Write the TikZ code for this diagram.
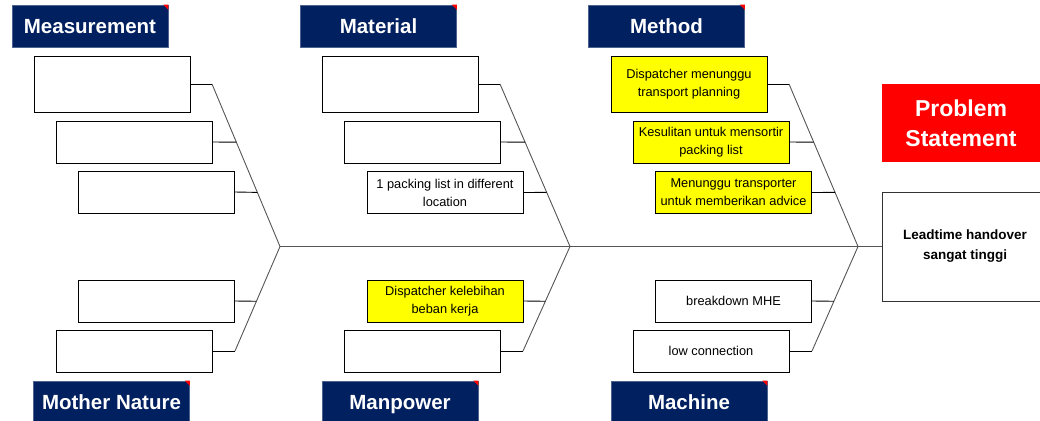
\documentclass[tikz,border=0pt]{standalone}
\usepackage{fontspec}
\setmainfont{Liberation Sans}
\usetikzlibrary{calc}
\definecolor{navy}{HTML}{002060}
\definecolor{hdred}{HTML}{FF0000}
\definecolor{ylw}{HTML}{FFFF00}
\definecolor{bonegray}{HTML}{555555}
\tikzset{
  header/.style={fill=navy, draw=navy!70!white, line width=0.6pt, text=white, minimum width=156pt, minimum height=42pt, inner sep=0pt, text height=15pt, text depth=0pt, font=\fontsize{20.5}{24}\selectfont\bfseries},
  causebox/.style={draw=black, line width=0.9pt, fill=white, minimum height=42pt, minimum width=156pt, inner sep=0pt, align=center, font=\fontsize{12.8}{18}\selectfont},
  bigbox/.style={causebox, minimum height=56pt},
  ybox/.style={causebox, fill=ylw},
  ybigbox/.style={bigbox, fill=ylw},
  bone/.style={draw=bonegray, line width=0.9pt},
  twig/.style={draw=black, line width=0.9pt},
  corner/.style={fill=hdred, draw=none}
}
\newcommand{\hdcorner}[1]{\fill[corner] (#1.north east) -- ([xshift=-5pt]#1.north east) -- ([yshift=-5pt]#1.north east) -- cycle;}
\begin{document}
\begin{tikzpicture}[x=1pt,y=-1pt]
\useasboundingbox (0,0) rectangle (1040,420);

% headers
\node[header] (hMeas) at (90,26) {Measurement};
\node[header] (hMat) at (378.5,26) {Material};
\node[header] (hMeth) at (666.5,26) {Method};
\node[header] (hMN) at (111.5,402) {Mother Nature};
\node[header] (hMP) at (400,402) {Manpower};
\node[header] (hMach) at (689,402) {Machine};
\hdcorner{hMeas}\hdcorner{hMat}\hdcorner{hMeth}\hdcorner{hMN}\hdcorner{hMP}\hdcorner{hMach}

% problem statement
\node[fill=hdred, minimum width=158pt, minimum height=78pt, inner sep=0pt, text=white, align=center, font=\fontsize{23}{30}\selectfont\bfseries] (ps) at (961,123) {Problem\\Statement};
\node[draw=black!80, line width=0.9pt, fill=white, minimum width=166pt, minimum height=109pt, inner sep=0pt, align=center, font=\fontsize{13.5}{20}\selectfont\bfseries] (lt) at (965,246.5) {Leadtime handover\\sangat tinggi};

% bone coordinates
\coordinate (t1) at (212,84);  \coordinate (j1) at (280,246.5); \coordinate (b1) at (235,351);
\coordinate (t2) at (500,84);  \coordinate (j2) at (570,246.5); \coordinate (b2) at (523,351);
\coordinate (t3) at (789,84);  \coordinate (j3) at (858,246.5); \coordinate (b3) at (812,351);

\foreach \i in {1,2,3}{
  \coordinate (r2c\i) at ($(t\i)!0.358!(j\i)$);
  \coordinate (r3c\i) at ($(t\i)!0.667!(j\i)$);
  \coordinate (r4c\i) at ($(j\i)!0.524!(b\i)$);
}

% spine and bones
\draw[bone] (j1) -- (lt.west);
\draw[bone] (t1) -- (j1) -- (b1);
\draw[bone] (t2) -- (j2) -- (b2);
\draw[bone] (t3) -- (j3) -- (b3);

% Measurement / Mother Nature boxes
\node[bigbox] (m1) at (112,84) {};
\node[causebox] (m2) at (134,142) {};
\node[causebox] (m3) at (156,192) {};
\node[causebox] (n1) at (156,301) {};
\node[causebox] (n2) at (134,351) {};

% Material / Manpower boxes
\node[bigbox] (a1) at (400,84) {};
\node[causebox] (a2) at (422,142) {};
\node[causebox] (a3) at (445,192.5) {1 packing list in different\\location};
\node[ybox] (p1) at (445,301) {Dispatcher kelebihan\\beban kerja};
\node[causebox] (p2) at (422.5,351) {};

% Method / Machine boxes
\node[ybigbox] (e1) at (689,84) {Dispatcher menunggu\\transport planning};
\node[ybox] (e2) at (711,142) {Kesulitan untuk mensortir\\packing list};
\node[ybox] (e3) at (733.5,192.5) {Menunggu transporter\\untuk memberikan advice};
\node[causebox] (c1) at (733.5,301) {breakdown MHE};
\node[causebox] (c2) at (711,351) {low connection};

% twigs
\draw[twig] (m1.east) -- (t1);
\draw[twig] (m2.east) -- (r2c1);
\draw[twig] (m3.east) -- (r3c1);
\draw[twig] (n1.east) -- (r4c1);
\draw[twig] (n2.east) -- (b1);

\draw[twig] (a1.east) -- (t2);
\draw[twig] (a2.east) -- (r2c2);
\draw[twig] (a3.east) -- (r3c2);
\draw[twig] (p1.east) -- (r4c2);
\draw[twig] (p2.east) -- (b2);

\draw[twig] (e1.east) -- (t3);
\draw[twig] (e2.east) -- (r2c3);
\draw[twig] (e3.east) -- (r3c3);
\draw[twig] (c1.east) -- (r4c3);
\draw[twig] (c2.east) -- (b3);
\end{tikzpicture}
\end{document}
